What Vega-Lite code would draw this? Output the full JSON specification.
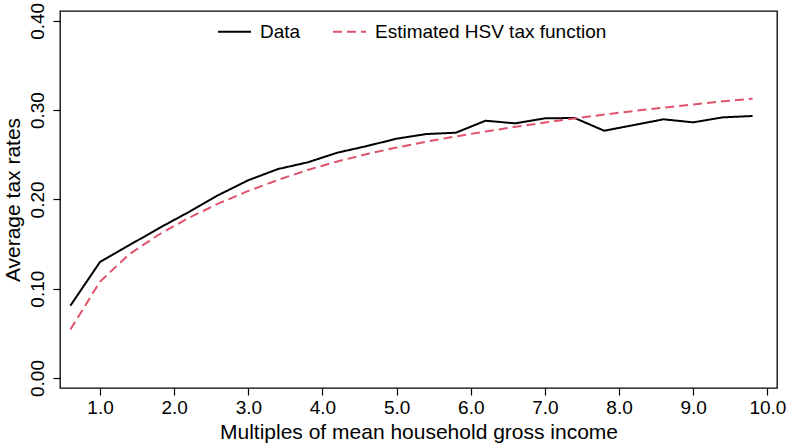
{
  "$schema": "https://vega.github.io/schema/vega-lite/v6.json",
  "width": 717,
  "height": 377,
  "autosize": {"type": "none"},
  "padding": {"left": 60, "top": 11, "right": 10, "bottom": 56},
  "background": "white",
  "config": {
    "font": "Liberation Sans",
    "view": {"stroke": "black", "strokeWidth": 1.3},
    "axis": {"grid": false, "domain": false, "tickColor": "black", "tickWidth": 1.2, "tickSize": 7,
             "labelColor": "black", "titleColor": "black", "labelFontSize": 19, "titleFontSize": 21,
             "titleFontWeight": "normal", "labelFont": "Liberation Sans", "titleFont": "Liberation Sans"}
  },
  "data": {"values": [
    {"x": 0.6, "y": 0.081, "series": "Data"},
    {"x": 1.0, "y": 0.130, "series": "Data"},
    {"x": 1.4, "y": 0.149, "series": "Data"},
    {"x": 1.8, "y": 0.168, "series": "Data"},
    {"x": 2.2, "y": 0.186, "series": "Data"},
    {"x": 2.6, "y": 0.205, "series": "Data"},
    {"x": 3.0, "y": 0.2215, "series": "Data"},
    {"x": 3.4, "y": 0.234, "series": "Data"},
    {"x": 3.8, "y": 0.2415, "series": "Data"},
    {"x": 4.2, "y": 0.2523, "series": "Data"},
    {"x": 4.6, "y": 0.2598, "series": "Data"},
    {"x": 5.0, "y": 0.268, "series": "Data"},
    {"x": 5.4, "y": 0.2732, "series": "Data"},
    {"x": 5.8, "y": 0.2747, "series": "Data"},
    {"x": 6.2, "y": 0.2881, "series": "Data"},
    {"x": 6.6, "y": 0.2852, "series": "Data"},
    {"x": 7.0, "y": 0.2908, "series": "Data"},
    {"x": 7.4, "y": 0.2912, "series": "Data"},
    {"x": 7.8, "y": 0.2769, "series": "Data"},
    {"x": 8.2, "y": 0.2833, "series": "Data"},
    {"x": 8.6, "y": 0.2897, "series": "Data"},
    {"x": 9.0, "y": 0.2863, "series": "Data"},
    {"x": 9.4, "y": 0.2919, "series": "Data"},
    {"x": 9.8, "y": 0.2934, "series": "Data"},
    {"x": 0.6, "y": 0.0543, "series": "Estimated HSV tax function"},
    {"x": 1.0, "y": 0.108, "series": "Estimated HSV tax function"},
    {"x": 1.4, "y": 0.139, "series": "Estimated HSV tax function"},
    {"x": 1.8, "y": 0.161, "series": "Estimated HSV tax function"},
    {"x": 2.2, "y": 0.1795, "series": "Estimated HSV tax function"},
    {"x": 2.6, "y": 0.1955, "series": "Estimated HSV tax function"},
    {"x": 3.0, "y": 0.2095, "series": "Estimated HSV tax function"},
    {"x": 3.4, "y": 0.2218, "series": "Estimated HSV tax function"},
    {"x": 3.8, "y": 0.2330, "series": "Estimated HSV tax function"},
    {"x": 4.2, "y": 0.2425, "series": "Estimated HSV tax function"},
    {"x": 4.6, "y": 0.2508, "series": "Estimated HSV tax function"},
    {"x": 5.0, "y": 0.2581, "series": "Estimated HSV tax function"},
    {"x": 5.4, "y": 0.2646, "series": "Estimated HSV tax function"},
    {"x": 5.8, "y": 0.2706, "series": "Estimated HSV tax function"},
    {"x": 6.2, "y": 0.2761, "series": "Estimated HSV tax function"},
    {"x": 6.6, "y": 0.2813, "series": "Estimated HSV tax function"},
    {"x": 7.0, "y": 0.2861, "series": "Estimated HSV tax function"},
    {"x": 7.4, "y": 0.2907, "series": "Estimated HSV tax function"},
    {"x": 7.8, "y": 0.295, "series": "Estimated HSV tax function"},
    {"x": 8.2, "y": 0.299, "series": "Estimated HSV tax function"},
    {"x": 8.6, "y": 0.3028, "series": "Estimated HSV tax function"},
    {"x": 9.0, "y": 0.3064, "series": "Estimated HSV tax function"},
    {"x": 9.4, "y": 0.3099, "series": "Estimated HSV tax function"},
    {"x": 9.8, "y": 0.3128, "series": "Estimated HSV tax function"}
  ]},
  "mark": {"type": "line", "strokeWidth": 2},
  "encoding": {
    "x": {"field": "x", "type": "quantitative",
          "scale": {"domain": [0.46, 10.13], "nice": false, "zero": false},
          "axis": {"values": [1, 2, 3, 4, 5, 6, 7, 8, 9, 10], "format": ".1f", "labelPadding": 3,
                   "title": "Multiples of mean household gross income", "titlePadding": 4}},
    "y": {"field": "y", "type": "quantitative",
          "scale": {"domain": [-0.0112, 0.411], "nice": false, "zero": false},
          "axis": {"values": [0, 0.1, 0.2, 0.3, 0.4], "format": ".2f", "labelAngle": -90,
                   "labelAlign": "center", "labelBaseline": "bottom", "labelPadding": 6,
                   "title": "Average tax rates", "titlePadding": 5}},
    "color": {"field": "series", "type": "nominal",
              "scale": {"domain": ["Data", "Estimated HSV tax function"], "range": ["#000000", "#DF536B"]},
              "legend": {"title": null, "orient": "none", "legendX": 157, "legendY": 3, "direction": "horizontal",
                         "symbolType": "stroke", "symbolSize": 1089, "symbolStrokeWidth": 2,
                         "labelFontSize": 19, "labelColor": "black", "labelOffset": 8, "columnPadding": 28,
                         "labelLimit": 0, "labelFont": "Liberation Sans"}},
    "strokeDash": {"field": "series", "type": "nominal",
                   "scale": {"domain": ["Data", "Estimated HSV tax function"], "range": [[1, 0], [9, 5]]},
                   "legend": null}
  }
}
